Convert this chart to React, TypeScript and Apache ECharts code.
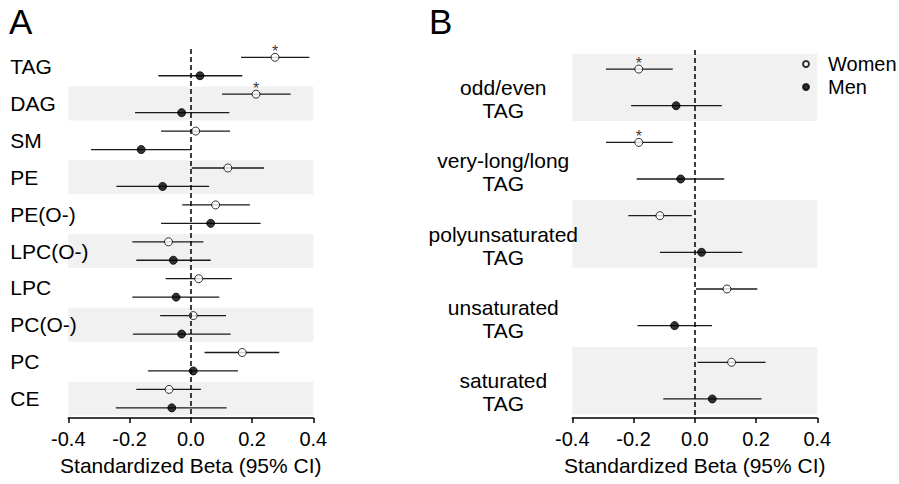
import React, { useEffect, useRef } from "react";
import * as echarts from "echarts";

// ---------- Data ----------
const categoriesA = ["TAG", "DAG", "SM", "PE", "PE(O-)", "LPC(O-)", "LPC", "PC(O-)", "PC", "CE"];
const womenA = [0.275, 0.213, 0.016, 0.121, 0.081, -0.073, 0.026, 0.008, 0.168, -0.071];
const womenLoA = [0.164, 0.102, -0.097, 0.003, -0.028, -0.191, -0.082, -0.1, 0.045, -0.178];
const womenHiA = [0.387, 0.326, 0.128, 0.239, 0.193, 0.041, 0.134, 0.115, 0.289, 0.033];
const menA = [0.03, -0.03, -0.162, -0.092, 0.065, -0.057, -0.048, -0.03, 0.008, -0.062];
const menLoA = [-0.106, -0.182, -0.326, -0.243, -0.097, -0.178, -0.191, -0.189, -0.14, -0.245];
const menHiA = [0.168, 0.126, 0.001, 0.06, 0.228, 0.065, 0.093, 0.13, 0.154, 0.117];
const sigA = [true, true, false, false, false, false, false, false, false, false];
const shadedA = [1, 3, 5, 7, 9];

const categoriesB = ["odd/even\nTAG", "very-long/long\nTAG", "polyunsaturated\nTAG", "unsaturated\nTAG", "saturated\nTAG"];
const womenB = [-0.183, -0.183, -0.114, 0.105, 0.12];
const womenLoB = [-0.29, -0.29, -0.217, 0.004, 0.009];
const womenHiB = [-0.072, -0.072, -0.01, 0.204, 0.231];
const menB = [-0.061, -0.046, 0.022, -0.066, 0.057];
const menLoB = [-0.208, -0.19, -0.114, -0.187, -0.103];
const menHiB = [0.088, 0.096, 0.155, 0.056, 0.218];
const sigB = [true, true, false, false, false];
const shadedB = [0, 2, 4];

const xTicks = [-0.4, -0.2, 0.0, 0.2, 0.4];
const axisTitle = "Standardized Beta (95% CI)";
const FONT = "Liberation Sans, Arial, Helvetica, sans-serif";

function panelSeries(
  idx: number,
  women: number[], wLo: number[], wHi: number[],
  men: number[], mLo: number[], mHi: number[],
  sig: boolean[], shaded: number[], bandHalf: number, yMin: number
) {
  const bars: number[][] = [];
  women.forEach((_, i) => {
    bars.push([2 * i, wLo[i], wHi[i]]);
    bars.push([2 * i + 1, mLo[i], mHi[i]]);
  });
  return [
    {
      type: "scatter", xAxisIndex: idx, yAxisIndex: idx, data: [], z: 0, silent: true,
      markArea: {
        silent: true,
        itemStyle: { color: "#f1f1f1" },
        data: shaded.map((g) => [
          { xAxis: xTicks[0], yAxis: Math.max(yMin, 2 * g + 0.5 - bandHalf) },
          { xAxis: xTicks[xTicks.length - 1], yAxis: 2 * g + 0.5 + bandHalf },
        ]),
      },
    },
    {
      type: "scatter", xAxisIndex: idx, yAxisIndex: idx, data: [], z: 1, silent: true,
      markLine: {
        silent: true, symbol: "none", label: { show: false },
        lineStyle: { type: [5, 3], color: "#000", width: 1.5 },
        data: [{ xAxis: 0 }],
      },
    },
    {
      type: "custom", xAxisIndex: idx, yAxisIndex: idx, z: 2, silent: true,
      encode: { x: [1, 2], y: 0 },
      data: bars,
      renderItem: (params: any, api: any) => {
        const y = api.value(0);
        const p1 = api.coord([api.value(1), y]);
        const p2 = api.coord([api.value(2), y]);
        return {
          type: "line",
          shape: { x1: p1[0], y1: p1[1], x2: p2[0], y2: p2[1] },
          style: { stroke: "#1a1a1a", lineWidth: 1.3 },
        };
      },
    },
    {
      name: "Women", type: "scatter", xAxisIndex: idx, yAxisIndex: idx, z: 3,
      symbol: "circle", symbolSize: 8,
      itemStyle: { color: "#fff", borderColor: "#000", borderWidth: 1 },
      data: women.map((v, i) => ({
        value: [v, 2 * i],
        label: {
          show: sig[i], formatter: "*", position: "top", distance: -7,
          fontSize: 16, color: "#000", fontFamily: FONT,
        },
      })),
    },
    {
      name: "Men", type: "scatter", xAxisIndex: idx, yAxisIndex: idx, z: 3,
      symbol: "circle", symbolSize: 8,
      itemStyle: { color: "#000", borderColor: "#000", borderWidth: 1 },
      data: men.map((v, i) => [v, 2 * i + 1]),
    },
  ];
}

function xAxisDef(idx: number) {
  return {
    type: "value", gridIndex: idx, min: xTicks[0], max: xTicks[xTicks.length - 1], interval: 0.2,
    splitLine: { show: false },
    axisLine: { show: true, onZero: false, lineStyle: { color: "#000", width: 1.5 } },
    axisTick: { show: true, length: 5, lineStyle: { color: "#000", width: 1.5 } },
    axisLabel: {
      margin: 11, fontSize: 20, color: "#000", fontFamily: FONT,
      formatter: (v: number) => (Math.abs(v) < 1e-9 ? "0.0" : v.toFixed(1)),
    },
    name: axisTitle, nameLocation: "middle", nameGap: 37,
    nameTextStyle: { fontSize: 21, color: "#000", fontFamily: FONT },
  };
}

export default function App() {
  const ref = useRef<HTMLDivElement>(null);
  useEffect(() => {
    if (!ref.current) return;
    const chart = echarts.init(ref.current, undefined, { renderer: "svg" });
    const option: any = {
      animation: false,
      backgroundColor: "#fff",
      textStyle: { fontFamily: FONT },
      title: [
        { text: "A", left: 9, top: 4, textStyle: { fontSize: 35, fontWeight: "normal", color: "#000", fontFamily: FONT }, padding: 0 },
        { text: "B", left: 429, top: 4, textStyle: { fontSize: 35, fontWeight: "normal", color: "#000", fontFamily: FONT }, padding: 0 },
      ],
      legend: {
        data: ["Women", "Men"], orient: "vertical", left: 802, top: 54, padding: 0,
        itemWidth: 6, itemHeight: 6, itemGap: 3,
        textStyle: { fontSize: 20, color: "#000", fontFamily: FONT, padding: [0, 0, 0, 14] },
      },
      grid: [
        { left: 68.3, top: 49, width: 245, height: 369 },
        { left: 572.3, top: 50, width: 245, height: 368 },
      ],
      xAxis: [xAxisDef(0), xAxisDef(1)],
      yAxis: [
        {
          type: "value", gridIndex: 0, min: -0.45, max: 19.55, inverse: true, z: 10,
          splitLine: { show: false }, axisLine: { show: false }, axisTick: { show: false },
          axisLabel: {
            customValues: categoriesA.map((_, i) => 2 * i + 0.5),
            formatter: (v: number) => categoriesA[Math.round((v - 0.5) / 2)] ?? "",
            align: "left", margin: 58, fontSize: 21, color: "#000", fontFamily: FONT,
          },
        },
        {
          type: "value", gridIndex: 1, min: -0.52, max: 9.52, inverse: true, z: 10,
          splitLine: { show: false }, axisLine: { show: false }, axisTick: { show: false },
          axisLabel: {
            customValues: categoriesB.map((_, i) => 2 * i + 0.5),
            // leading blank line lowers the two-line label, as in the reference
            formatter: (v: number) => "\n" + (categoriesB[Math.round((v - 0.5) / 2)] ?? ""),
            align: "center", margin: 69, fontSize: 21, lineHeight: 23,
            color: "#000", fontFamily: FONT,
          },
        },
      ],
      series: [
        ...panelSeries(0, womenA, womenLoA, womenHiA, menA, menLoA, menHiA, sigA, shadedA, 0.92, -0.45),
        ...panelSeries(1, womenB, womenLoB, womenHiB, menB, menLoB, menHiB, sigB, shadedB, 0.92, -0.52),
      ],
    };
    chart.setOption(option);
    return () => chart.dispose();
  }, []);
  return (
    <div
      ref={ref}
      style={{ position: "fixed", left: 0, top: 0, width: 899, height: 484, background: "#fff" }}
    />
  );
}
